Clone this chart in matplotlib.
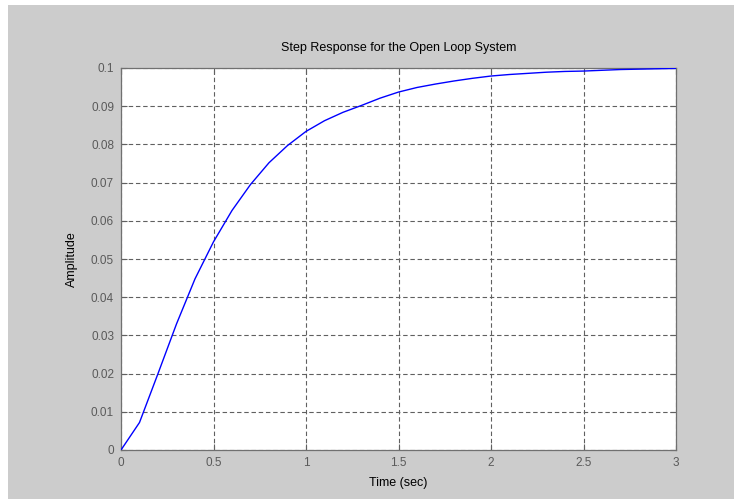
import matplotlib
matplotlib.use("Agg")
import matplotlib.pyplot as plt
from matplotlib.patches import Rectangle

# Open loop step response, sampled every 0.1 s
time_s = [0.0, 0.1, 0.2, 0.3, 0.4, 0.5, 0.6, 0.7, 0.8, 0.9, 1.0,
          1.1, 1.2, 1.3, 1.4, 1.5, 1.6, 1.7, 1.8, 1.9, 2.0,
          2.1, 2.2, 2.3, 2.4, 2.5, 2.6, 2.7, 2.8, 2.9, 3.0]
amplitude = [0.0, 0.0072, 0.0200, 0.0330, 0.0448, 0.0545, 0.0627, 0.0695, 0.0752, 0.0797, 0.0834,
             0.0862, 0.0884, 0.0902, 0.0921, 0.0937, 0.0949, 0.0958, 0.0966, 0.0973, 0.0979,
             0.0983, 0.0986, 0.0989, 0.0991, 0.0992, 0.0994, 0.0996, 0.0997, 0.0998, 0.0999]
x_ticks = [0, 0.5, 1, 1.5, 2, 2.5, 3]
x_tick_labels = ["0", "0.5", "1", "1.5", "2", "2.5", "3"]
y_ticks = [0, 0.01, 0.02, 0.03, 0.04, 0.05, 0.06, 0.07, 0.08, 0.09, 0.1]
y_tick_labels = ["0", "0.01", "0.02", "0.03", "0.04", "0.05", "0.06", "0.07", "0.08", "0.09", "0.1"]

GRAY = "#cccccc"
plt.rcParams["font.family"] = ["Liberation Sans", "DejaVu Sans"]

W, H = 734, 499
fig = plt.figure(figsize=(W / 100, H / 100), dpi=100, facecolor="white")
# gray window background, leaving a thin white strip top and left
fig.patches.append(Rectangle((8 / W, 0), 1 - 8 / W, 1 - 5 / H, transform=fig.transFigure,
                             facecolor=GRAY, edgecolor="none", zorder=-10))

ax = fig.add_axes([121 / W, 1 - 450 / H, (676 - 121) / W, (450 - 68) / H])
ax.set_zorder(1)
ax.set_facecolor("white")
ax.plot(time_s, amplitude, color="#0000ff", linewidth=1.0, zorder=3)

ax.set_xlim(0, 3)
ax.set_ylim(0, 0.1)
ax.set_xticks(x_ticks)
ax.set_xticklabels(x_tick_labels)
ax.set_yticks(y_ticks)
ax.set_yticklabels(y_tick_labels)
ax.tick_params(direction="in", length=4, width=0.8, color="#606060",
               labelsize=8.5, labelcolor="#5a5a5a", pad=5)
ax.tick_params(top=True, right=True)

ax.grid(True, color="#606060", linestyle=(0, (4, 2.5)), linewidth=0.8)
for side in ax.spines.values():
    side.set_color("#707070")
    side.set_linewidth(0.9)

ax.set_title("Step Response for the Open Loop System", fontsize=9, color="black", pad=12)
ax.set_xlabel("Time (sec)", fontsize=9, color="black", labelpad=6)
ax.set_ylabel("Amplitude", fontsize=9, color="black", labelpad=9)

fig.savefig("out.png", dpi=100, facecolor=fig.get_facecolor())
